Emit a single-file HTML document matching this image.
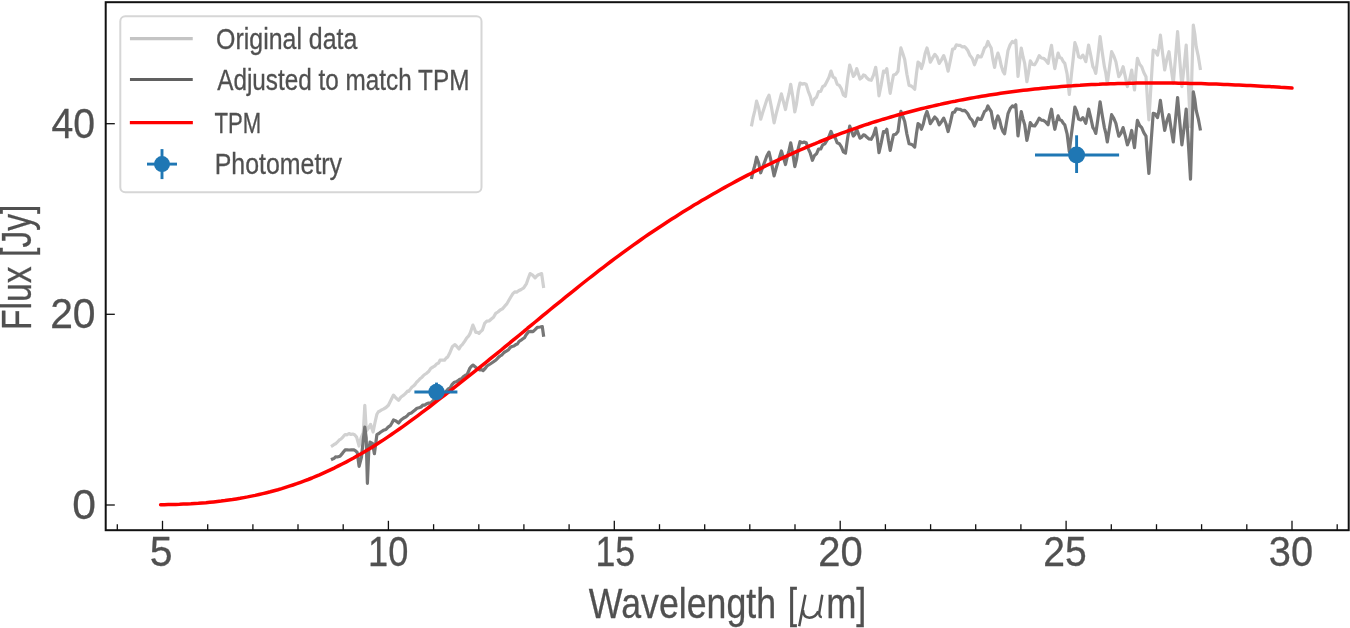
<!DOCTYPE html>
<html><head><meta charset="utf-8"><style>html,body{margin:0;padding:0;background:#fff;width:1350px;height:628px;overflow:hidden}svg{display:block;will-change:transform}</style></head>
<body><svg width="1350" height="628" viewBox="0 0 1350 628"><rect x="0" y="0" width="1350" height="628" fill="#fff"/>
<path d="M331.0,446.6 L332.5,445.7 L334.0,444.5 L335.6,443.8 L337.3,442.2 L339.1,440.2 L341.0,439.0 L343.1,436.8 L345.1,434.5 L347.1,434.8 L349.0,433.5 L350.9,434.5 L352.7,434.0 L354.6,434.8 L356.6,437.1 L359.1,446.0 L361.0,438.0 L363.3,432.5 L364.8,405.3 L366.3,431.0 L368.5,428.0 L370.6,424.4 L373.1,432.0 L375.0,422.5 L376.9,414.2 L378.4,411.7 L380.0,411.0 L381.6,409.9 L383.3,409.1 L386.0,407.5 L388.4,405.3 L391.0,400.0 L393.5,395.1 L396.0,398.0 L398.6,400.2 L401.0,397.0 L403.7,395.1 L406.0,393.0 L407.4,391.2 L408.8,391.3 L410.4,389.1 L412.0,387.0 L413.5,386.0 L415.0,384.5 L416.5,382.3 L418.0,381.0 L420.0,378.7 L422.0,377.2 L424.0,375.0 L426.3,373.5 L428.6,371.6 L430.8,368.3 L433.0,367.0 L434.9,365.8 L436.7,363.9 L438.6,363.0 L440.0,360.2 L442.2,360.0 L444.5,360.2 L446.1,358.1 L447.8,356.9 L450.1,352.2 L452.3,346.8 L455.0,344.6 L457.0,346.7 L459.0,349.1 L460.6,346.2 L462.3,344.6 L464.6,341.3 L466.8,337.9 L468.5,336.2 L470.1,333.4 L472.9,325.1 L474.3,328.3 L475.7,332.3 L477.4,332.3 L479.0,333.4 L480.7,331.5 L482.4,330.1 L484.6,323.4 L486.8,321.2 L489.1,321.0 L491.3,319.0 L493.5,317.2 L495.7,313.4 L497.9,312.0 L500.2,310.0 L502.4,308.9 L504.7,306.2 L506.6,304.2 L508.6,300.8 L510.8,297.0 L512.9,293.7 L514.8,291.9 L516.7,292.1 L518.6,290.8 L521.2,289.5 L523.7,287.9 L526.5,283.6 L528.3,278.3 L530.1,273.6 L532.6,275.2 L535.1,277.9 L536.5,276.3 L538.0,275.0 L539.8,274.2 L541.6,273.6 L543.7,287.9" fill="none" stroke="#d1d1d1" stroke-width="3.2" stroke-linejoin="round"/>
<path d="M751.4,126.4 L753.1,117.6 L754.9,110.4 L756.6,101.1 L758.7,108.0 L760.7,119.2 L762.8,112.3 L764.9,105.7 L766.9,99.4 L769.0,95.1 L771.5,107.6 L774.1,122.8 L776.5,112.5 L779.0,103.1 L781.4,93.9 L783.5,101.9 L785.5,109.5 L787.2,100.8 L789.0,93.5 L790.7,84.3 L792.8,96.9 L794.8,112.0 L796.5,103.9 L798.3,90.7 L800.0,83.0 L802.1,84.2 L804.1,83.6 L806.2,84.3 L808.3,91.3 L810.3,96.4 L812.4,104.7 L814.5,99.0 L816.5,97.2 L818.6,91.5 L820.7,91.5 L822.7,86.7 L824.8,85.5 L826.9,81.5 L828.9,77.5 L831.0,71.1 L833.1,77.1 L835.1,78.2 L837.2,84.3 L839.3,85.4 L841.4,88.9 L843.4,94.9 L845.5,96.3 L847.6,79.0 L849.7,65.0 L851.5,70.4 L853.3,76.4 L855.0,74.5 L856.7,68.6 L858.4,74.0 L860.0,79.0 L861.7,77.8 L863.4,75.0 L865.0,75.6 L866.7,77.7 L869.0,79.8 L871.2,80.3 L873.5,75.2 L875.7,67.3 L877.4,79.5 L879.0,95.8 L881.2,84.6 L883.5,71.2 L885.1,72.0 L886.8,68.6 L888.5,82.0 L890.2,93.3 L891.9,83.2 L893.5,75.0 L895.8,74.3 L898.0,71.2 L899.5,57.9 L900.9,47.9 L902.8,53.5 L904.7,59.6 L906.9,74.2 L909.1,85.5 L911.0,85.9 L912.8,87.2 L914.7,89.3 L916.4,74.2 L918.0,62.1 L919.7,63.4 L921.4,68.6 L923.3,62.5 L925.1,53.6 L927.0,47.9 L928.6,54.0 L930.3,62.1 L932.5,58.2 L934.8,54.4 L937.0,57.0 L939.2,63.4 L941.5,59.8 L943.7,55.6 L945.9,61.9 L948.1,71.2 L950.4,60.5 L952.6,49.1 L954.5,48.7 L956.3,44.9 L958.2,45.3 L960.3,45.4 L962.4,47.0 L964.5,46.6 L966.1,48.2 L967.8,50.5 L970.0,55.6 L972.2,58.3 L974.5,64.8 L976.1,60.4 L977.8,55.6 L979.5,57.0 L981.2,57.0 L982.9,52.6 L984.5,48.0 L986.2,46.6 L987.9,41.5 L989.5,45.1 L991.2,48.0 L992.9,59.4 L994.6,67.4 L996.2,58.7 L997.9,53.1 L999.6,58.1 L1001.3,66.1 L1003.0,71.3 L1004.6,73.9 L1006.3,61.8 L1008.0,50.5 L1010.2,44.6 L1012.4,41.5 L1014.1,42.6 L1015.8,40.2 L1018.0,76.4 L1019.6,61.6 L1021.3,48.0 L1023.0,56.7 L1024.7,63.4 L1026.9,81.7 L1028.6,72.2 L1030.3,60.9 L1032.5,64.4 L1034.7,64.8 L1037.0,60.7 L1039.2,55.6 L1041.4,58.0 L1043.6,58.3 L1045.8,60.2 L1048.1,63.4 L1049.8,53.4 L1051.5,45.3 L1053.2,58.6 L1054.8,68.6 L1056.4,60.6 L1058.1,53.1 L1059.8,57.6 L1061.5,58.3 L1063.2,61.5 L1064.8,63.4 L1067.1,73.9 L1069.3,94.5 L1071.5,73.9 L1073.2,58.8 L1074.9,42.7 L1076.8,48.1 L1078.6,56.7 L1080.8,57.8 L1082.9,55.1 L1084.3,58.2 L1085.8,61.7 L1087.2,53.7 L1088.6,45.1 L1090.8,55.5 L1092.9,66.7 L1094.3,68.9 L1095.8,73.4 L1097.9,56.7 L1100.1,36.7 L1102.2,52.0 L1104.4,66.7 L1105.8,73.0 L1107.3,83.4 L1109.4,68.0 L1111.6,51.7 L1113.8,56.0 L1115.9,61.7 L1117.3,69.3 L1118.8,76.7 L1120.9,73.3 L1123.1,66.7 L1125.2,76.1 L1127.4,86.6 L1129.6,80.1 L1131.7,70.0 L1133.1,80.5 L1134.5,90.0 L1136.0,72.1 L1137.4,58.3 L1139.6,64.3 L1141.7,66.7 L1143.8,72.5 L1146.0,76.7 L1147.5,100.4 L1148.9,120.0 L1151.1,83.7 L1153.2,50.1 L1155.3,51.0 L1157.5,55.1 L1159.0,46.9 L1160.4,35.1 L1162.6,53.4 L1164.7,70.0 L1166.8,59.1 L1169.0,51.7 L1171.2,68.6 L1173.3,83.4 L1175.4,58.6 L1177.6,31.7 L1179.8,60.9 L1181.9,86.6 L1184.1,66.7 L1186.2,45.1 L1188.3,84.3 L1190.5,126.6 L1191.9,73.8 L1193.3,25.1 L1194.8,33.9 L1196.2,46.7 L1198.3,56.4 L1200.5,70.0" fill="none" stroke="#d1d1d1" stroke-width="3.2" stroke-linejoin="round"/>
<path d="M331.0,459.7 L332.5,459.0 L334.0,458.5 L335.6,456.8 L337.3,457.0 L340.0,456.2 L342.6,453.1 L345.1,449.9 L347.1,449.8 L349.0,450.0 L351.5,449.8 L354.0,449.9 L355.6,450.8 L357.2,452.4 L359.1,466.4 L361.5,457.0 L363.1,441.4 L364.8,427.0 L366.2,438.0 L367.4,483.3 L368.8,450.0 L370.0,442.2 L372.5,443.5 L374.4,453.7 L376.9,434.6 L378.9,433.5 L380.8,432.0 L383.4,430.3 L385.9,429.5 L388.1,427.1 L390.3,425.7 L391.9,423.0 L393.5,419.9 L396.0,421.0 L398.6,423.1 L401.0,420.0 L403.7,418.0 L405.4,417.1 L407.0,416.0 L409.1,413.7 L411.3,412.9 L413.1,411.5 L415.0,410.0 L417.0,408.3 L419.0,407.8 L421.0,407.0 L423.0,405.0 L424.9,405.1 L426.7,403.7 L428.6,403.1 L431.0,402.9 L433.4,400.4 L435.8,400.3 L437.9,398.9 L439.9,396.6 L442.0,396.0 L444.0,393.6 L446.0,391.5 L448.1,388.9 L450.1,388.0 L452.2,384.4 L454.4,382.2 L456.2,381.7 L458.0,380.8 L459.8,379.3 L461.6,378.8 L463.5,376.5 L465.4,375.2 L467.3,374.2 L470.0,368.0 L471.5,366.2 L473.0,365.1 L475.1,366.8 L477.3,368.7 L480.0,370.0 L481.6,369.7 L483.1,370.5 L485.1,368.5 L487.0,366.0 L489.4,364.5 L491.7,363.0 L493.9,361.5 L496.0,360.0 L498.0,357.8 L500.0,356.0 L502.0,354.8 L504.0,352.5 L506.3,351.2 L508.6,349.6 L510.3,347.4 L512.0,346.5 L513.9,346.0 L515.8,344.6 L517.4,344.0 L519.0,341.5 L521.0,340.2 L522.9,338.8 L524.5,337.7 L526.0,335.0 L528.7,331.6 L530.9,331.3 L533.0,331.6 L535.1,329.6 L537.3,327.3 L540.0,327.0 L542.3,326.6 L543.7,336.7" fill="none" stroke="#767676" stroke-width="3.2" stroke-linejoin="round"/>
<path d="M751.4,179.0 L753.1,171.4 L754.9,165.3 L756.6,157.2 L758.7,163.2 L760.7,172.8 L762.8,166.9 L764.9,161.2 L766.9,155.8 L769.0,152.1 L771.5,162.9 L774.1,175.9 L776.5,167.0 L779.0,158.9 L781.4,151.0 L783.5,157.9 L785.5,164.5 L787.2,157.0 L789.0,150.7 L790.7,142.8 L792.8,153.6 L794.8,166.6 L796.5,159.7 L798.3,148.3 L800.0,141.7 L802.1,142.7 L804.1,142.1 L806.2,142.8 L808.3,148.8 L810.3,153.2 L812.4,160.3 L814.5,155.4 L816.5,153.8 L818.6,149.0 L820.7,149.0 L822.7,144.9 L824.8,143.8 L826.9,140.4 L828.9,136.9 L831.0,131.4 L833.1,136.6 L835.1,137.5 L837.2,142.8 L839.3,143.7 L841.4,146.8 L843.4,151.9 L845.5,153.1 L847.6,138.2 L849.7,126.2 L851.5,130.8 L853.3,136.0 L855.0,134.3 L856.7,129.3 L858.4,133.9 L860.0,138.2 L861.7,137.2 L863.4,134.8 L865.0,135.3 L866.7,137.1 L869.0,138.9 L871.2,139.3 L873.5,134.9 L875.7,128.1 L877.4,138.7 L879.0,152.7 L881.2,143.0 L883.5,131.5 L885.1,132.2 L886.8,129.3 L888.5,140.8 L890.2,150.5 L891.9,141.9 L893.5,134.8 L895.8,134.2 L898.0,131.5 L899.5,120.0 L900.9,111.4 L902.8,116.3 L904.7,121.5 L906.9,134.1 L909.1,143.8 L911.0,144.2 L912.8,145.2 L914.7,147.1 L916.4,134.1 L918.0,123.7 L919.7,124.8 L921.4,129.3 L923.3,124.0 L925.1,116.3 L927.0,111.4 L928.6,116.7 L930.3,123.7 L932.5,120.3 L934.8,117.0 L937.0,119.3 L939.2,124.8 L941.5,121.7 L943.7,118.1 L945.9,123.5 L948.1,131.5 L950.4,122.3 L952.6,112.5 L954.5,112.1 L956.3,108.9 L958.2,109.2 L960.3,109.3 L962.4,110.6 L964.5,110.3 L966.1,111.7 L967.8,113.7 L970.0,118.1 L972.2,120.4 L974.5,126.0 L976.1,122.2 L977.8,118.1 L979.5,119.3 L981.2,119.3 L982.9,115.5 L984.5,111.5 L986.2,110.3 L987.9,105.9 L989.5,109.0 L991.2,111.5 L992.9,121.3 L994.6,128.2 L996.2,120.7 L997.9,115.9 L999.6,120.2 L1001.3,127.1 L1003.0,131.6 L1004.6,133.8 L1006.3,123.4 L1008.0,113.7 L1010.2,108.6 L1012.4,105.9 L1014.1,106.9 L1015.8,104.8 L1018.0,136.0 L1019.6,123.2 L1021.3,111.5 L1023.0,119.1 L1024.7,124.8 L1026.9,140.5 L1028.6,132.4 L1030.3,122.6 L1032.5,125.7 L1034.7,126.0 L1037.0,122.5 L1039.2,118.1 L1041.4,120.2 L1043.6,120.4 L1045.8,122.1 L1048.1,124.8 L1049.8,116.2 L1051.5,109.2 L1053.2,120.7 L1054.8,129.3 L1056.4,122.3 L1058.1,115.9 L1059.8,119.8 L1061.5,120.4 L1063.2,123.2 L1064.8,124.8 L1067.1,133.8 L1069.3,151.6 L1071.5,133.8 L1073.2,120.8 L1074.9,107.0 L1076.8,111.6 L1078.6,119.0 L1080.8,119.9 L1082.9,117.6 L1084.3,120.3 L1085.8,123.3 L1087.2,116.4 L1088.6,109.0 L1090.8,118.0 L1092.9,127.6 L1094.3,129.6 L1095.8,133.4 L1097.9,119.1 L1100.1,101.8 L1102.2,115.0 L1104.4,127.6 L1105.8,133.0 L1107.3,142.0 L1109.4,128.8 L1111.6,114.7 L1113.8,118.4 L1115.9,123.3 L1117.3,129.8 L1118.8,136.2 L1120.9,133.3 L1123.1,127.6 L1125.2,135.7 L1127.4,144.8 L1129.6,139.1 L1131.7,130.5 L1133.1,139.5 L1134.5,147.7 L1136.0,132.3 L1137.4,120.4 L1139.6,125.5 L1141.7,127.6 L1143.8,132.6 L1146.0,136.2 L1147.5,156.6 L1148.9,173.5 L1151.1,142.2 L1153.2,113.3 L1155.3,114.1 L1157.5,117.6 L1159.0,110.6 L1160.4,100.4 L1162.6,116.2 L1164.7,130.5 L1166.8,121.0 L1169.0,114.7 L1171.2,129.3 L1173.3,142.0 L1175.4,120.7 L1177.6,97.5 L1179.8,122.7 L1181.9,144.8 L1184.1,127.7 L1186.2,109.0 L1188.3,142.7 L1190.5,179.2 L1191.9,133.8 L1193.3,91.8 L1194.8,99.4 L1196.2,110.4 L1198.3,118.8 L1200.5,130.5" fill="none" stroke="#767676" stroke-width="3.2" stroke-linejoin="round"/>
<path d="M160.6,504.7 L164.4,504.7 L168.2,504.6 L172.0,504.5 L175.7,504.4 L179.5,504.3 L183.3,504.1 L187.1,504.0 L190.9,503.8 L194.7,503.5 L198.4,503.3 L202.2,503.0 L206.0,502.7 L209.8,502.3 L213.6,501.9 L217.4,501.5 L221.1,501.1 L224.9,500.6 L228.7,500.0 L232.5,499.5 L236.3,498.9 L240.1,498.3 L243.8,497.6 L247.6,496.9 L251.4,496.1 L255.2,495.4 L259.0,494.5 L262.8,493.6 L266.6,492.7 L270.3,491.8 L274.1,490.7 L277.9,489.7 L281.7,488.6 L285.5,487.4 L289.3,486.2 L293.0,485.0 L296.8,483.7 L300.6,482.3 L304.4,480.9 L308.2,479.5 L312.0,478.0 L315.7,476.4 L319.5,474.8 L323.3,473.1 L327.1,471.4 L330.9,469.6 L334.7,467.8 L338.4,465.9 L342.2,464.0 L346.0,462.1 L349.8,460.0 L353.6,458.0 L357.4,455.8 L361.1,453.7 L364.9,451.5 L368.7,449.2 L372.5,446.9 L376.3,444.5 L380.1,442.1 L383.9,439.6 L387.6,437.1 L391.4,434.5 L395.2,431.9 L399.0,429.3 L402.8,426.6 L406.6,423.9 L410.3,421.2 L414.1,418.4 L417.9,415.6 L421.7,412.7 L425.5,409.9 L429.3,407.0 L433.0,404.1 L436.8,401.2 L440.6,398.2 L444.4,395.3 L448.2,392.3 L452.0,389.4 L455.7,386.4 L459.5,383.4 L463.3,380.4 L467.1,377.4 L470.9,374.4 L474.7,371.4 L478.5,368.4 L482.2,365.3 L486.0,362.3 L489.8,359.2 L493.6,356.2 L497.4,353.1 L501.2,350.0 L504.9,346.9 L508.7,343.8 L512.5,340.7 L516.3,337.6 L520.1,334.5 L523.9,331.4 L527.6,328.2 L531.4,325.1 L535.2,322.0 L539.0,318.9 L542.8,315.7 L546.6,312.6 L550.3,309.5 L554.1,306.4 L557.9,303.3 L561.7,300.3 L565.5,297.2 L569.3,294.1 L573.1,291.1 L576.8,288.1 L580.6,285.0 L584.4,282.0 L588.2,279.0 L592.0,276.1 L595.8,273.1 L599.5,270.2 L603.3,267.3 L607.1,264.4 L610.9,261.5 L614.7,258.7 L618.5,255.9 L622.2,253.1 L626.0,250.3 L629.8,247.6 L633.6,244.9 L637.4,242.2 L641.2,239.5 L644.9,236.9 L648.7,234.3 L652.5,231.7 L656.3,229.2 L660.1,226.7 L663.9,224.2 L667.6,221.7 L671.4,219.3 L675.2,216.9 L679.0,214.5 L682.8,212.1 L686.6,209.8 L690.4,207.4 L694.1,205.1 L697.9,202.9 L701.7,200.6 L705.5,198.4 L709.3,196.2 L713.1,194.0 L716.8,191.9 L720.6,189.7 L724.4,187.6 L728.2,185.5 L732.0,183.5 L735.8,181.4 L739.5,179.4 L743.3,177.4 L747.1,175.4 L750.9,173.5 L754.7,171.5 L758.5,169.6 L762.2,167.7 L766.0,165.8 L769.8,164.0 L773.6,162.2 L777.4,160.4 L781.2,158.6 L785.0,156.8 L788.7,155.1 L792.5,153.4 L796.3,151.7 L800.1,150.0 L803.9,148.4 L807.7,146.7 L811.4,145.1 L815.2,143.6 L819.0,142.0 L822.8,140.5 L826.6,139.0 L830.4,137.5 L834.1,136.0 L837.9,134.6 L841.7,133.2 L845.5,131.8 L849.3,130.4 L853.1,129.1 L856.8,127.8 L860.6,126.5 L864.4,125.2 L868.2,124.0 L872.0,122.7 L875.8,121.5 L879.5,120.4 L883.3,119.2 L887.1,118.1 L890.9,117.0 L894.7,115.9 L898.5,114.8 L902.3,113.7 L906.0,112.7 L909.8,111.7 L913.6,110.7 L917.4,109.7 L921.2,108.8 L925.0,107.9 L928.7,107.0 L932.5,106.1 L936.3,105.2 L940.1,104.4 L943.9,103.5 L947.7,102.7 L951.4,101.9 L955.2,101.2 L959.0,100.4 L962.8,99.7 L966.6,99.0 L970.4,98.3 L974.1,97.6 L977.9,96.9 L981.7,96.3 L985.5,95.7 L989.3,95.1 L993.1,94.5 L996.9,93.9 L1000.6,93.3 L1004.4,92.8 L1008.2,92.3 L1012.0,91.8 L1015.8,91.3 L1019.6,90.8 L1023.3,90.3 L1027.1,89.9 L1030.9,89.5 L1034.7,89.1 L1038.5,88.7 L1042.3,88.3 L1046.0,87.9 L1049.8,87.6 L1053.6,87.2 L1057.4,86.9 L1061.2,86.6 L1065.0,86.3 L1068.7,86.0 L1072.5,85.8 L1076.3,85.5 L1080.1,85.3 L1083.9,85.0 L1087.7,84.8 L1091.5,84.6 L1095.2,84.4 L1099.0,84.3 L1102.8,84.1 L1106.6,83.9 L1110.4,83.8 L1114.2,83.7 L1117.9,83.6 L1121.7,83.5 L1125.5,83.4 L1129.3,83.3 L1133.1,83.2 L1136.9,83.1 L1140.6,83.1 L1144.4,83.1 L1148.2,83.0 L1152.0,83.0 L1155.8,83.0 L1159.6,83.0 L1163.3,83.0 L1167.1,83.0 L1170.9,83.1 L1174.7,83.1 L1178.5,83.2 L1182.3,83.2 L1186.0,83.3 L1189.8,83.4 L1193.6,83.4 L1197.4,83.5 L1201.2,83.6 L1205.0,83.7 L1208.8,83.9 L1212.5,84.0 L1216.3,84.1 L1220.1,84.2 L1223.9,84.4 L1227.7,84.5 L1231.5,84.7 L1235.2,84.9 L1239.0,85.0 L1242.8,85.2 L1246.6,85.4 L1250.4,85.6 L1254.2,85.8 L1257.9,86.0 L1261.7,86.2 L1265.5,86.4 L1269.3,86.6 L1273.1,86.8 L1276.9,87.0 L1280.6,87.3 L1284.4,87.5 L1288.2,87.7 L1292.0,88.0" fill="none" stroke="#ff0000" stroke-width="3.5" stroke-linecap="round" stroke-linejoin="round"/>
<line x1="414.4" y1="392.0" x2="457.4" y2="392.0" stroke="#1f77b4" stroke-width="2.9"/><line x1="436.5" y1="382.6" x2="436.5" y2="398.0" stroke="#1f77b4" stroke-width="2.9"/><circle cx="436.5" cy="392.0" r="8.2" fill="#1f77b4"/>
<line x1="1035.0" y1="155.0" x2="1119.1" y2="155.0" stroke="#1f77b4" stroke-width="2.9"/><line x1="1076.6" y1="135.3" x2="1076.6" y2="173.0" stroke="#1f77b4" stroke-width="2.9"/><circle cx="1076.6" cy="155.0" r="8.5" fill="#1f77b4"/>
<rect x="105.7" y="2.2" width="1243" height="528" fill="none" stroke="#111" stroke-width="2"/>
<line x1="105.7" y1="505.0" x2="114.8" y2="505.0" stroke="#111" stroke-width="1.3"/>
<line x1="105.7" y1="314.3" x2="114.8" y2="314.3" stroke="#111" stroke-width="1.3"/>
<line x1="105.7" y1="123.7" x2="114.8" y2="123.7" stroke="#111" stroke-width="1.3"/>
<line x1="117.3" y1="530.2" x2="117.3" y2="524.2" stroke="#111" stroke-width="1.3"/>
<line x1="162.5" y1="530.2" x2="162.5" y2="520.8" stroke="#111" stroke-width="1.3"/>
<line x1="207.7" y1="530.2" x2="207.7" y2="524.2" stroke="#111" stroke-width="1.3"/>
<line x1="252.9" y1="530.2" x2="252.9" y2="524.2" stroke="#111" stroke-width="1.3"/>
<line x1="298.0" y1="530.2" x2="298.0" y2="524.2" stroke="#111" stroke-width="1.3"/>
<line x1="343.2" y1="530.2" x2="343.2" y2="524.2" stroke="#111" stroke-width="1.3"/>
<line x1="388.4" y1="530.2" x2="388.4" y2="520.8" stroke="#111" stroke-width="1.3"/>
<line x1="433.6" y1="530.2" x2="433.6" y2="524.2" stroke="#111" stroke-width="1.3"/>
<line x1="478.8" y1="530.2" x2="478.8" y2="524.2" stroke="#111" stroke-width="1.3"/>
<line x1="523.9" y1="530.2" x2="523.9" y2="524.2" stroke="#111" stroke-width="1.3"/>
<line x1="569.1" y1="530.2" x2="569.1" y2="524.2" stroke="#111" stroke-width="1.3"/>
<line x1="614.3" y1="530.2" x2="614.3" y2="520.8" stroke="#111" stroke-width="1.3"/>
<line x1="659.5" y1="530.2" x2="659.5" y2="524.2" stroke="#111" stroke-width="1.3"/>
<line x1="704.7" y1="530.2" x2="704.7" y2="524.2" stroke="#111" stroke-width="1.3"/>
<line x1="749.8" y1="530.2" x2="749.8" y2="524.2" stroke="#111" stroke-width="1.3"/>
<line x1="795.0" y1="530.2" x2="795.0" y2="524.2" stroke="#111" stroke-width="1.3"/>
<line x1="840.2" y1="530.2" x2="840.2" y2="520.8" stroke="#111" stroke-width="1.3"/>
<line x1="885.4" y1="530.2" x2="885.4" y2="524.2" stroke="#111" stroke-width="1.3"/>
<line x1="930.6" y1="530.2" x2="930.6" y2="524.2" stroke="#111" stroke-width="1.3"/>
<line x1="975.7" y1="530.2" x2="975.7" y2="524.2" stroke="#111" stroke-width="1.3"/>
<line x1="1020.9" y1="530.2" x2="1020.9" y2="524.2" stroke="#111" stroke-width="1.3"/>
<line x1="1066.1" y1="530.2" x2="1066.1" y2="520.8" stroke="#111" stroke-width="1.3"/>
<line x1="1111.3" y1="530.2" x2="1111.3" y2="524.2" stroke="#111" stroke-width="1.3"/>
<line x1="1156.5" y1="530.2" x2="1156.5" y2="524.2" stroke="#111" stroke-width="1.3"/>
<line x1="1201.6" y1="530.2" x2="1201.6" y2="524.2" stroke="#111" stroke-width="1.3"/>
<line x1="1246.8" y1="530.2" x2="1246.8" y2="524.2" stroke="#111" stroke-width="1.3"/>
<line x1="1292.0" y1="530.2" x2="1292.0" y2="520.8" stroke="#111" stroke-width="1.3"/>
<line x1="1337.2" y1="530.2" x2="1337.2" y2="524.2" stroke="#111" stroke-width="1.3"/>
<text transform="translate(72.17,519.30) scale(0.9902,1)" font-family="'Liberation Sans', sans-serif" font-size="43" fill="#505050" stroke="#505050" stroke-width="0.3">0</text>
<text transform="translate(50.16,328.10) scale(0.9500,1)" font-family="'Liberation Sans', sans-serif" font-size="43" fill="#505050" stroke="#505050" stroke-width="0.3">20</text>
<text transform="translate(51.59,137.90) scale(0.9105,1)" font-family="'Liberation Sans', sans-serif" font-size="43" fill="#505050" stroke="#505050" stroke-width="0.3">40</text>
<text transform="translate(149.63,566.40) scale(0.9531,1)" font-family="'Liberation Sans', sans-serif" font-size="43" fill="#505050" stroke="#505050" stroke-width="0.3">5</text>
<text transform="translate(368.06,566.40) scale(0.8419,1)" font-family="'Liberation Sans', sans-serif" font-size="43" fill="#505050" stroke="#505050" stroke-width="0.3">10</text>
<text transform="translate(595.50,566.40) scale(0.8304,1)" font-family="'Liberation Sans', sans-serif" font-size="43" fill="#505050" stroke="#505050" stroke-width="0.3">15</text>
<text transform="translate(818.31,566.40) scale(0.9295,1)" font-family="'Liberation Sans', sans-serif" font-size="43" fill="#505050" stroke="#505050" stroke-width="0.3">20</text>
<text transform="translate(1043.35,566.40) scale(0.9097,1)" font-family="'Liberation Sans', sans-serif" font-size="43" fill="#505050" stroke="#505050" stroke-width="0.3">25</text>
<text transform="translate(1268.78,566.40) scale(0.9258,1)" font-family="'Liberation Sans', sans-serif" font-size="43" fill="#505050" stroke="#505050" stroke-width="0.3">30</text>
<text transform="translate(588.79,618.30) scale(0.8367,1)" font-family="'Liberation Sans', sans-serif" font-size="42.7" fill="#505050" stroke="#505050" stroke-width="0.3">Wavelength</text>
<text transform="translate(787.74,618.30) scale(0.7882,1)" font-family="'Liberation Sans', sans-serif" font-size="42.7" fill="#505050" stroke="#505050" stroke-width="0.3">[</text>
<text transform="translate(826.26,618.30) scale(0.8500,1)" font-family="'Liberation Sans', sans-serif" font-size="42.7" fill="#505050" stroke="#505050" stroke-width="0.3">m</text>
<text transform="translate(856.29,618.30) scale(0.8471,1)" font-family="'Liberation Sans', sans-serif" font-size="42.7" fill="#505050" stroke="#505050" stroke-width="0.3">]</text>
<text transform="translate(31.10,329.96) rotate(-90) scale(0.7895,1)" font-family="'Liberation Sans', sans-serif" font-size="42.7" fill="#505050" stroke="#505050" stroke-width="0.3">Flux [Jy]</text>
<path d="M805.4,594.8 L799.2,626.2 M803.0,610.0 C803.2,615.8 805.8,617.7 809.4,617.7 C813.4,617.7 816.6,615.2 818.2,611.2 M822.3,594.8 L819.3,612.2 C819.0,615.2 819.6,617.1 821.9,617.0" fill="none" stroke="#505050" stroke-width="2.5" stroke-linecap="butt" stroke-linejoin="round"/>
<rect x="120.3" y="16.3" width="361.2" height="176" rx="5" ry="5" fill="#fff" fill-opacity="0.8" stroke="#d6d6d6" stroke-width="2"/>
<text transform="translate(216.05,48.80) scale(0.8309,1)" font-family="'Liberation Sans', sans-serif" font-size="30" fill="#505050" stroke="#505050" stroke-width="0.3">Original data</text>
<text transform="translate(217.20,90.10) scale(0.8107,1)" font-family="'Liberation Sans', sans-serif" font-size="30" fill="#505050" stroke="#505050" stroke-width="0.3">Adjusted to match TPM</text>
<text transform="translate(214.55,132.90) scale(0.7383,1)" font-family="'Liberation Sans', sans-serif" font-size="30" fill="#505050" stroke="#505050" stroke-width="0.3">TPM</text>
<text transform="translate(214.72,174.00) scale(0.8305,1)" font-family="'Liberation Sans', sans-serif" font-size="30" fill="#505050" stroke="#505050" stroke-width="0.3">Photometry</text>
<line x1="131.5" y1="38.6" x2="191.2" y2="38.6" stroke="#c4c4c4" stroke-width="3.1" stroke-linecap="square"/>
<line x1="131.5" y1="79.5" x2="191.2" y2="79.5" stroke="#606060" stroke-width="3.1" stroke-linecap="square"/>
<line x1="131.5" y1="122.6" x2="191.2" y2="122.6" stroke="#ff0000" stroke-width="3.3" stroke-linecap="square"/>
<line x1="147.0" y1="164.1" x2="177.0" y2="164.1" stroke="#1f77b4" stroke-width="2.9"/><line x1="162.0" y1="149.1" x2="162.0" y2="179.1" stroke="#1f77b4" stroke-width="2.9"/><circle cx="162.0" cy="164.1" r="8.0" fill="#1f77b4"/></svg></body></html>
